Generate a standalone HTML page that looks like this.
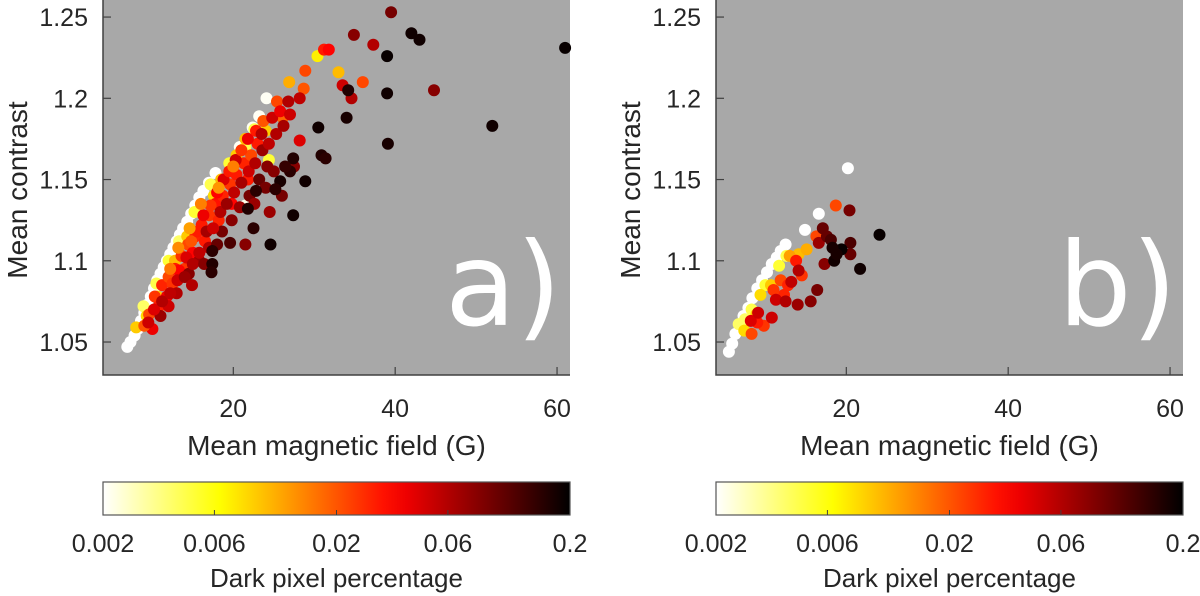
<!DOCTYPE html>
<html><head><meta charset="utf-8"><style>
html,body{margin:0;padding:0;background:#fff;}
svg{display:block;font-family:"Liberation Sans",sans-serif;}
</style></head><body>
<svg id="fig" width="1200" height="596" viewBox="0 0 1200 596" xmlns="http://www.w3.org/2000/svg">
<defs><linearGradient id="hot" x1="0" x2="1" y1="0" y2="0"></linearGradient></defs>
</svg>
<script>
const xTicks=[20,40,60];
const yTicks=[1.05,1.1,1.15,1.2,1.25];
const yTickLabels=["1.05","1.1","1.15","1.2","1.25"];
const cTicks=[0.002,0.006,0.02,0.06,0.2];
const cTickLabels=["0.002","0.006","0.02","0.06","0.2"];

const aX=[6.9,7.3,7.8,8.2,8.6,9.0,9.4,9.8,10.2,10.6,11.0,11.4,11.8,12.2,12.6,13.0,13.4,13.8,14.3,14.8,15.3,15.8,16.3,17.0,17.8,20.8,22.4,23.2,24.1,21.5,
8.9,10.5,12.0,13.3,15.2,17.2,19.5,22.6,24.4,21.5,
8.0,9.3,10.6,12.8,14.3,17.6,20.4,21.5,26.9,30.4,33.0,24.0,18.5,
9.6,11.5,10.3,11.2,12.0,12.8,13.6,14.4,15.3,16.1,17.0,17.8,18.7,19.6,20.4,21.3,22.2,23.0,23.7,25.4,26.1,28.7,28.9,31.2,31.8,36.0,15.0,16.5,18.2,19.8,14.0,21.8,
10.8,11.8,12.5,13.3,14.2,14.8,15.6,16.3,17.2,18.0,18.8,19.5,20.3,21.0,21.8,22.8,23.5,24.8,25.8,26.8,13.0,14.5,15.8,17.0,18.6,19.8,20.8,22.0,23.2,24.2,11.0,12.0,10.0,9.0,16.0,14.6,13.2,12.2,18.2,20.0,
9.5,10.2,11.2,12.2,13.1,14.0,15.0,15.8,16.7,17.5,18.4,19.2,20.1,21.0,21.9,22.7,23.6,24.4,25.3,26.2,27.0,28.2,28.2,33.5,34.6,34.9,37.3,39.5,44.8,19.6,21.5,14.9,16.4,22.6,24.0,25.0,26.0,27.5,24.5,18.0,
24.6,22.5,27.4,21.8,22.8,25.8,27.0,28.9,30.9,31.4,30.5,34.0,34.2,39.0,39.1,39.0,42.0,43.0,52.0,61.0,17.4,17.4,17.3,27.4,25.2,26.4];
const aY=[1.047,1.050,1.054,1.058,1.063,1.068,1.073,1.078,1.083,1.088,1.092,1.096,1.100,1.104,1.108,1.112,1.116,1.120,1.124,1.129,1.134,1.139,1.143,1.148,1.154,1.170,1.182,1.189,1.200,1.134,
1.072,1.086,1.100,1.112,1.130,1.147,1.160,1.181,1.162,1.170,
1.059,1.066,1.078,1.100,1.115,1.140,1.165,1.175,1.210,1.226,1.216,1.180,1.150,
1.067,1.073,1.078,1.085,1.090,1.095,1.103,1.110,1.115,1.122,1.128,1.135,1.140,1.147,1.153,1.160,1.165,1.172,1.186,1.198,1.188,1.206,1.217,1.230,1.230,1.210,1.105,1.112,1.125,1.135,1.095,1.150,
1.072,1.078,1.086,1.094,1.102,1.112,1.118,1.128,1.134,1.142,1.150,1.155,1.162,1.168,1.175,1.180,1.178,1.188,1.192,1.198,1.080,1.092,1.100,1.108,1.118,1.125,1.133,1.140,1.150,1.158,1.066,1.072,1.058,1.060,1.135,1.120,1.108,1.095,1.145,1.158,
1.062,1.070,1.075,1.080,1.088,1.090,1.098,1.105,1.118,1.120,1.130,1.135,1.142,1.148,1.155,1.160,1.168,1.172,1.178,1.183,1.190,1.200,1.174,1.208,1.200,1.239,1.233,1.253,1.205,1.111,1.110,1.085,1.098,1.135,1.145,1.155,1.140,1.158,1.130,1.110,
1.110,1.120,1.128,1.132,1.143,1.149,1.155,1.149,1.165,1.163,1.182,1.188,1.205,1.203,1.172,1.226,1.240,1.236,1.183,1.231,1.106,1.098,1.093,1.163,1.144,1.158];
const aC=[0.002,0.002,0.002,0.002,0.002,0.002,0.002,0.002,0.002,0.002,0.002,0.002,0.002,0.002,0.002,0.002,0.002,0.002,0.002,0.002,0.002,0.002,0.002,0.002,0.002,0.0021,0.0021,0.0021,0.0021,0.0022,
0.004,0.0045,0.005,0.004,0.005,0.0045,0.005,0.0045,0.005,0.0045,
0.009,0.008,0.009,0.010,0.009,0.008,0.009,0.010,0.011,0.007,0.010,0.009,0.010,
0.022,0.018,0.025,0.028,0.022,0.030,0.025,0.022,0.028,0.030,0.025,0.032,0.028,0.025,0.030,0.028,0.022,0.030,0.020,0.022,0.018,0.020,0.022,0.030,0.035,0.022,0.035,0.030,0.028,0.035,0.025,0.030,
0.030,0.040,0.025,0.035,0.045,0.020,0.030,0.040,0.025,0.035,0.045,0.030,0.050,0.025,0.040,0.030,0.060,0.050,0.040,0.060,0.060,0.080,0.070,0.060,0.090,0.080,0.070,0.090,0.100,0.080,0.070,0.050,0.040,0.020,0.015,0.012,0.014,0.016,0.013,0.015,
0.050,0.045,0.060,0.055,0.050,0.070,0.060,0.055,0.065,0.050,0.060,0.070,0.055,0.065,0.050,0.060,0.070,0.055,0.060,0.065,0.050,0.055,0.045,0.050,0.060,0.080,0.060,0.090,0.080,0.120,0.080,0.060,0.080,0.070,0.090,0.080,0.090,0.080,0.070,0.100,
0.180,0.150,0.180,0.160,0.150,0.170,0.150,0.180,0.160,0.150,0.180,0.170,0.160,0.180,0.170,0.190,0.180,0.180,0.180,0.190,0.150,0.160,0.150,0.160,0.150,0.140];

const bX=[5.5,5.9,6.3,6.8,7.3,7.9,8.4,9.0,9.6,10.2,10.8,11.4,11.9,12.5,14.9,16.6,20.2,
6.7,8.3,11.7,12.6,7.5,10.0,
9.4,10.7,14.1,15.1,7.4,8.9,13.0,
8.3,9.8,11.9,12.3,13.8,14.5,16.3,18.7,11.0,9.0,12.8,
8.2,9.1,11.3,13.2,14.1,10.8,14.0,15.6,16.4,20.4,17.1,16.6,17.6,18.1,17.3,20.5,20.5,12.5,
18.5,19.4,18.8,21.7,24.1,18.3];
const bY=[1.044,1.049,1.055,1.060,1.066,1.071,1.077,1.083,1.088,1.093,1.098,1.102,1.106,1.110,1.119,1.129,1.157,
1.061,1.070,1.097,1.103,1.064,1.085,
1.079,1.085,1.104,1.107,1.057,1.067,1.103,
1.055,1.060,1.088,1.079,1.100,1.091,1.115,1.134,1.082,1.062,1.085,
1.063,1.068,1.076,1.087,1.094,1.065,1.073,1.075,1.082,1.131,1.120,1.111,1.115,1.113,1.098,1.111,1.104,1.075,
1.100,1.107,1.104,1.095,1.116,1.108];
const bC=[0.002,0.002,0.002,0.002,0.002,0.002,0.002,0.002,0.002,0.002,0.002,0.002,0.002,0.002,0.002,0.002,0.002,
0.004,0.0045,0.005,0.0045,0.004,0.005,
0.008,0.009,0.010,0.011,0.008,0.009,0.012,
0.022,0.025,0.022,0.028,0.030,0.025,0.022,0.022,0.025,0.030,0.028,
0.045,0.050,0.050,0.055,0.060,0.050,0.070,0.080,0.090,0.090,0.100,0.070,0.100,0.120,0.080,0.120,0.100,0.060,
0.180,0.190,0.170,0.180,0.190,0.170];

const NS="http://www.w3.org/2000/svg";
const svg=document.getElementById('fig');
function mk(tag,attrs,parent){const e=document.createElementNS(NS,tag);for(const k in attrs)e.setAttribute(k,attrs[k]);(parent||svg).appendChild(e);return e;}
const XMIN=3.9,XMAX=61.6,YTOP=1.2605,YBOT=1.0297,PT=0,PB=375,PW=467;
const CMIN=0.002,CMAX=0.2;
function ct(c){return Math.max(0,Math.min(1,Math.log(c/CMIN)/Math.log(CMAX/CMIN)));}
function hot(t){const u=1-t;const r=Math.min(1,u/0.375),g=Math.max(0,Math.min(1,(u-0.375)/0.375)),b=Math.max(0,Math.min(1,(u-0.75)/0.25));return `rgb(${Math.round(r*255)},${Math.round(g*255)},${Math.round(b*255)})`;}
const grad=document.getElementById('hot');
for(let i=0;i<=20;i++){mk('stop',{offset:(i/20),'stop-color':hot(i/20)},grad);}

function panel(L,xs,ys,cs,label,id){
  const sx=x=>L+(x-XMIN)/(XMAX-XMIN)*PW;
  const sy=y=>PT+(YTOP-y)/(YTOP-YBOT)*(PB-PT);
  const g=mk('g',{});
  
  
  const bg=mk('rect',{x:L,y:PT,width:PW,height:PB-PT,fill:'#a8a8a8'},g);
  
  
  for(let i=0;i<xs.length;i++){
    const c=mk('circle',{cx:sx(xs[i]).toFixed(1),cy:sy(ys[i]).toFixed(1),r:6,fill:hot(ct(cs[i]))},g);
    
    
  }
  const lt=mk('text',{x:L+342,y:325,fill:'#fff','font-size':116,'font-family':'DejaVu Sans, sans-serif'},g);
  lt.textContent=label;
  
  
  const ax=mk('path',{d:`M${L},${PT} V${PB} H${L+PW}`,stroke:'#404040','stroke-width':1.5,fill:'none'},g);
  
  
  xTicks.forEach(v=>{const x=sx(v);
    mk('line',{x1:x,x2:x,y1:PB,y2:PB-8,stroke:'#404040','stroke-width':1.2},g);
    const t=mk('text',{x:x,y:417,'text-anchor':'middle','font-size':25,fill:'#262626'},g);t.textContent=v;
    
    });
  yTicks.forEach((v,i)=>{const y=sy(v);
    mk('line',{x1:L,x2:L+8,y1:y,y2:y,stroke:'#404040','stroke-width':1.2},g);
    const t=mk('text',{x:L-15,y:y+9,'text-anchor':'end','font-size':25,fill:'#262626'},g);t.textContent=yTickLabels[i];
    
    });
  const xt=mk('text',{x:L+PW/2,y:455,'text-anchor':'middle','font-size':28,fill:'#262626'},g);xt.textContent='Mean magnetic field (G)';
  
  
  const yt=mk('text',{x:0,y:0,transform:`translate(${L-76},190) rotate(-90)`,'text-anchor':'middle','font-size':28,fill:'#262626'},g);yt.textContent='Mean contrast';
  
  
  const cb=mk('rect',{x:L,y:482,width:PW,height:33,fill:'url(#hot)',stroke:'#555','stroke-width':1.2},g);
  
  
  cTicks.forEach((v,i)=>{const x=L+ct(v)*PW;
    if(i>0&&i<cTicks.length-1)mk('line',{x1:x,x2:x,y1:515,y2:510,stroke:'#404040','stroke-width':1},g);
    const t=mk('text',{x:x,y:552,'text-anchor':'middle','font-size':25,fill:'#262626'},g);t.textContent=cTickLabels[i];
    
    });
  const ctt=mk('text',{x:L+PW/2,y:587,'text-anchor':'middle','font-size':26,fill:'#262626'},g);ctt.textContent='Dark pixel percentage';
  
  
}
panel(103,aX,aY,aC,'a)','a');
panel(716,bX,bY,bC,'b)','b');
</script>
</body></html>
